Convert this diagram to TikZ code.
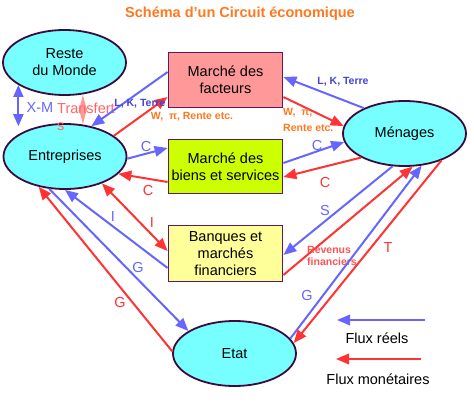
\documentclass[tikz,border=0pt]{standalone}
\usepackage{fontspec}
\setmainfont{Liberation Sans}
\usetikzlibrary{arrows.meta,shapes.geometric}
\definecolor{cyanF}{RGB}{119,255,255}
\definecolor{ellBord}{RGB}{60,10,60}
\definecolor{boxBord}{RGB}{95,25,95}
\definecolor{facF}{RGB}{255,153,153}
\definecolor{bienF}{RGB}{204,255,0}
\definecolor{banF}{RGB}{255,255,153}
\definecolor{blueA}{RGB}{102,102,255}
\definecolor{redA}{RGB}{255,51,51}
\definecolor{pinkA}{RGB}{255,153,153}
\definecolor{salmon}{RGB}{255,102,102}
\definecolor{blueL}{RGB}{68,68,210}
\definecolor{orangeT}{RGB}{255,120,30}
\newcommand\fbig{\fontsize{14.5pt}{17pt}\selectfont}
\newcommand\fsml{\fontsize{10.5pt}{16pt}\selectfont\bfseries}
\newcommand\fsmlr{\fontsize{10.5pt}{12.5pt}\selectfont\bfseries}
\begin{document}
\begin{tikzpicture}[x=1pt,y=-1pt,
  ell/.style={ellipse, draw=ellBord, line width=1.8pt, fill=cyanF, minimum width=123pt, minimum height=65pt, inner sep=0pt, align=center, font=\fbig},
  box/.style={rectangle, draw=boxBord, line width=1.8pt, minimum width=114pt, inner sep=0pt, align=center, font=\fbig},
  tipA/.style={Triangle[length=13pt,width=10.5pt]},
  flowB/.style={draw=blueA, line width=2pt, -{Triangle[length=13pt,width=10.5pt]}},
  flowR/.style={draw=redA, line width=2pt, -{Triangle[length=13pt,width=10.5pt]}},
  lblB/.style={text=blueA, font=\fbig, inner sep=0pt},
  lblR/.style={text=redA, font=\fbig, inner sep=0pt},
  txt/.style={text=black, font=\fbig, inner sep=0pt}]
\path[use as bounding box, fill=white] (0,0) rectangle (474,407);

\node[inner sep=0pt, text=orangeT, font=\fbig\bfseries] (title) at (240,14) {Schéma d'un Circuit économique};

\node[ell] (rdm) at (64.5,62.5) {Reste\\du Monde};
\node[ell] (ent) at (65,156.5) {Entreprises};
\node[ell] (men) at (404.5,133.5) {Ménages};
\node[ell] (etat) at (234.5,353.5) {Etat};

\node[box, fill=facF, minimum height=55pt] (fac) at (225.5,80) {Marché des\\facteurs};
\node[box, fill=bienF, minimum height=54pt] (bien) at (225.5,166.5) {Marché des\\biens et services};
\node[box, fill=banF, minimum height=56pt] (ban) at (225.5,253.5) {Banques et\\marchés\\financiers};

% Reste du monde <-> Entreprises
\draw[draw=blueA, line width=2pt, {Triangle[length=12pt,width=10pt]}-{Triangle[length=12pt,width=10pt]}] (rdm.-154.3) -- (rdm.-154.3 |- ent.131.3);
\draw[draw=pinkA, line width=2pt, {Triangle[length=17pt,width=8pt]}-{Triangle[length=17pt,width=8pt]}] (rdm.-60.7) -- (rdm.-60.7 |- ent.60.7);
\node[lblB] (xm) at (40,108) {X-M};
\node[text=salmon, font=\fbig, inner sep=0pt, align=left, anchor=west] (trans) at (57,116.5) {Transfert\\s};

% Marche des facteurs
\draw[flowB] ([yshift=8pt]fac.west) -- (ent.49.4);
\draw[flowR] (ent.23.3) -- ([yshift=-17pt]fac.west);
\draw[flowB] (men.148.1) -- ([yshift=3pt]fac.east);
\draw[flowR] ([yshift=-17pt]fac.east) -- (men.173.2);
\node[text=blueL, font=\fsmlr, inner sep=0pt] (lk1) at (140,104) {L, K, Terre};
\node[text=orangeT, font=\fsmlr, inner sep=0pt] (w1) at (192,117) {W,\ \ π, Rente etc.};
\node[text=blueL, font=\fsmlr, inner sep=0pt] (lk2) at (343,82) {L, K, Terre};
\node[text=orangeT, font=\fsml, inner sep=0pt, align=left, anchor=west] (w2) at (283,120) {W,\ \ π,\\Rente etc.};

% Marche des biens
\draw[flowB] (ent.-2) -- ([yshift=18.5pt]bien.west);
\draw[flowR] ([yshift=-15.5pt]bien.west) -- (ent.-18.6);
\draw[flowB] ([yshift=3.5pt]bien.east) -- (men.188.5);
\draw[flowR] (men.209.8) -- ([yshift=-10.5pt]bien.east);
\node[lblB] (c1) at (146,147) {C};
\node[lblR] (c2) at (148,191) {C};
\node[lblB] (c3) at (317,146) {C};
\node[lblR] (c4) at (325,183) {C};

% Banques
\draw[draw=redA, line width=2pt, {Triangle[length=13pt,width=10.5pt]}-{Triangle[length=13pt,width=10.5pt]}] (ent.-36.9) -- ([yshift=2.5pt]ban.west);
\draw[flowB] ([yshift=-14.5pt]ban.west) -- (ent.-90);
\node[lblB] (i1) at (113,217) {I};
\node[lblR] (i2) at (152,223) {I};
\draw[flowB] (men.250.1) -- ([yshift=-1.5pt]ban.east);
\draw[flowR] ([yshift=-21.5pt]ban.east) -- (men.284.2);
\node[lblB] (s) at (325,211) {S};
\node[text=redA!85!white, font=\fsmlr, inner sep=0pt, align=left, anchor=west] (rev) at (307,256) {Revenus\\financiers};

% Etat
\draw[flowB] (ent.-116.9) -- (etat.154.1);
\draw[flowR] (etat.178.6) -- (ent.-131.6);
\draw[flowB] (etat.15.1) -- (men.298.2);
\draw[flowR] (men.324.8) -- (etat.10.4);
\node[lblB] (g1) at (138,268) {G};
\node[lblR] (g2) at (120,303) {G};
\node[lblB] (g3) at (307,296) {G};
\node[lblR] (t) at (388,248) {T};

% Legend
\coordinate (l1s) at (425,320);
\coordinate (l1e) at (337,320);
\coordinate (l2s) at (421,359);
\coordinate (l2e) at (336,359);
\draw[flowB] (l1s) -- (l1e);
\draw[flowR] (l2s) -- (l2e);
\node[txt] (fr) at (377,338) {Flux réels};
\node[txt] (fm) at (378,379) {Flux monétaires};
\end{tikzpicture}
\end{document}
